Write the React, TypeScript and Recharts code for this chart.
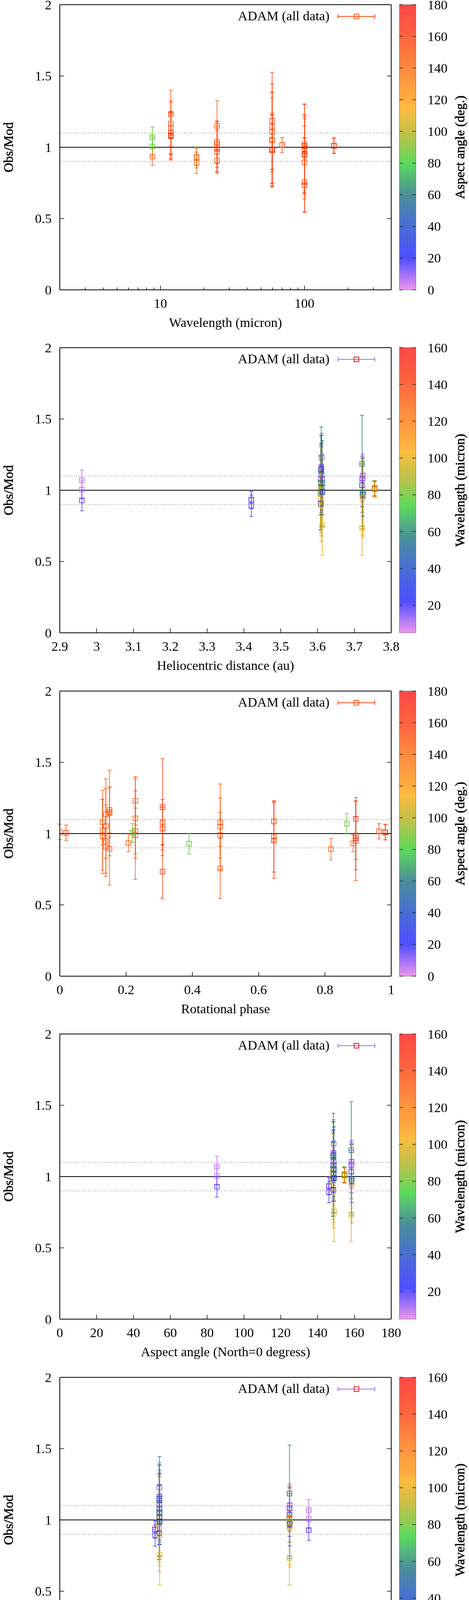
import React from 'react';
import { ScatterChart, Scatter, XAxis, YAxis, ErrorBar, ReferenceLine, Legend } from 'recharts';

// ---------------- data: one entry per observation ----------------
const wavelength = [
  8.8, 8.8, 17.8,
  8.8, 17.8, 17.8,
  11.8, 59.6, 100,
  11.8, 24.7, 59.6, 100,
  11.8, 24.7, 59.6, 100,
  11.8, 24.7, 59.6, 100,
  11.8, 24.7, 59.6, 100,
  11.8, 24.7, 59.6, 100,
  11.8, 59.6, 100,
  11.8, 24.7, 59.6, 100,
  160, 100, 70, 160, 100,
];
const helioDistance = [
  2.96, 2.96, 2.96,
  3.42, 3.42, 3.42,
  3.608, 3.608, 3.608,
  3.609, 3.609, 3.609, 3.609,
  3.61, 3.61, 3.61, 3.61,
  3.611, 3.611, 3.611, 3.611,
  3.613, 3.613, 3.613, 3.613,
  3.721, 3.721, 3.721, 3.721,
  3.722, 3.722, 3.722,
  3.723, 3.723, 3.723, 3.723,
  3.755, 3.755, 3.755, 3.755, 3.755,
];
const rotationalPhase = [
  0.866, 0.219, 0.39,
  0.207, 0.818, 0.885,
  0.129, 0.129, 0.129,
  0.139, 0.139, 0.139, 0.139,
  0.15, 0.15, 0.15, 0.15,
  0.228, 0.228, 0.228, 0.228,
  0.484, 0.484, 0.484, 0.484,
  0.31, 0.31, 0.31, 0.31,
  0.646, 0.646, 0.646,
  0.893, 0.893, 0.893, 0.893,
  0.0, 0.019, 0.963, 0.982, 0.982,
];
const aspectAngle = [
  85.3, 85.3, 85.3,
  146.2, 146.2, 146.2,
  148.4, 148.4, 148.4,
  148.5, 148.5, 148.5, 148.5,
  148.6, 148.6, 148.6, 148.6,
  148.7, 148.7, 148.7, 148.7,
  148.9, 148.9, 148.9, 148.9,
  158.3, 158.3, 158.3, 158.3,
  158.4, 158.4, 158.4,
  158.5, 158.5, 158.5, 158.5,
  154.6, 154.6, 154.6, 154.6, 154.6,
];
const phaseAngle = [
  20.1, 20.1, 20.1,
  -17.0, -17.0, -17.0,
  -16.0, -16.0, -16.0,
  -16.0, -16.0, -16.0, -16.0,
  -15.95, -15.95, -15.95, -15.95,
  -15.95, -15.95, -15.95, -15.95,
  -15.9, -15.9, -15.9, -15.9,
  15.45, 15.45, 15.45, 15.45,
  15.45, 15.45, 15.45,
  15.5, 15.5, 15.5, 15.5,
  15.45, 15.45, 15.45, 15.45, 15.45,
];
const obsModRatio = [
  1.07, 1.005, 0.929,
  0.935, 0.891, 0.932,
  1.08, 0.98, 1.024,
  1.135, 0.907, 1.053, 0.95,
  1.166, 1.151, 1.144, 0.894,
  1.23, 1.019, 1.107, 0.989,
  1.08, 0.989, 1.048, 0.755,
  1.079, 1.035, 1.185, 0.733,
  1.085, 0.98, 0.951,
  1.103, 0.968, 0.986, 0.95,
  1.012, 1.006, 1.016, 1.009, 1.011,
];
const obsModError = [
  0.072, 0.066, 0.073,
  0.062, 0.075, 0.06,
  0.16, 0.26, 0.28,
  0.18, 0.08, 0.33, 0.25,
  0.16, 0.176, 0.3, 0.255,
  0.17, 0.16, 0.28, 0.31,
  0.17, 0.16, 0.3, 0.21,
  0.16, 0.15, 0.34, 0.19,
  0.14, 0.25, 0.265,
  0.15, 0.15, 0.24, 0.28,
  0.054, 0.054, 0.053, 0.053, 0.055,
];

// ---------------- ticks ----------------
const yTicks = [0, 0.5, 1, 1.5, 2];
const wavelengthTicks = [2, 3, 4, 5, 6, 7, 8, 9, 10, 20, 30, 40, 50, 60, 70, 80, 90, 100, 200, 300, 400];
const wavelengthTickLabels = [10, 100];
const helioTicks = [2.9, 3, 3.1, 3.2, 3.3, 3.4, 3.5, 3.6, 3.7, 3.8];
const rotTicks = [0, 0.2, 0.4, 0.6, 0.8, 1];
const aspectTicks = [0, 20, 40, 60, 80, 100, 120, 140, 160, 180];
const phaseTicks = [-40, -30, -20, -10, 0, 10, 20, 30, 40];
const cbAspectTicks = [0, 20, 40, 60, 80, 100, 120, 140, 160, 180];
const cbWavelengthTicks = [20, 40, 60, 80, 100, 120, 140, 160];

const observations = wavelength.map((w, i) => ({
  wavelength: w,
  helio: helioDistance[i],
  rot: rotationalPhase[i],
  aspect: aspectAngle[i],
  phase: phaseAngle[i],
  ratio: obsModRatio[i],
  err: obsModError[i],
}));

// ---------------- styles ----------------
const FONT = '"Liberation Serif", "Times New Roman", serif';
const FS = 34;
const PANEL_PITCH = 878.4;
const PAD_TOP = 20; // extra room above each plot so that the top tick label is not clipped
const TOP_AXIS_H = 12 + PAD_TOP;
const PLOT_H = 730;
const BOTTOM_AXIS_H = 136;
const CHART_H = TOP_AXIS_H + PLOT_H + BOTTOM_AXIS_H;
const TICK_MAJOR = 11;
const TICK_MINOR = 6;

const PALETTE: [number, number[]][] = [
  [0.0, [232, 115, 232]],
  [0.111, [20, 20, 255]],
  [0.222, [10, 60, 200]],
  [0.333, [15, 105, 120]],
  [0.444, [40, 205, 40]],
  [0.555, [180, 170, 10]],
  [0.639, [255, 165, 0]],
  [0.667, [255, 145, 0]],
  [0.778, [255, 100, 0]],
  [0.889, [255, 45, 0]],
  [1.0, [255, 10, 10]],
];
const rgb = (c: number[]) => `rgb(${c[0]},${c[1]},${c[2]})`;
function paletteColor(f: number) {
  const t = Math.max(0, Math.min(1, f));
  for (let i = 1; i < PALETTE.length; i++) {
    const [p0, c0] = PALETTE[i - 1];
    const [p1, c1] = PALETTE[i];
    if (t <= p1) {
      const u = (t - p0) / (p1 - p0);
      return rgb(c0.map((v, k) => Math.round(v + (c1[k] - v) * u)));
    }
  }
  return rgb(PALETTE[PALETTE.length - 1][1]);
}

const fmt = (v: number) => String(Math.round(v * 100) / 100);

type Cfg = {
  xLabel: string;
  xOf: (o: any) => number;
  domain: [number, number];
  scale: 'log' | 'linear';
  ticks: number[];
  labels: number[];
  cOf: (o: any) => number;
  cbDomain: [number, number];
  cbTicks: number[];
  cbLabel: string;
  legendLine: string;
  legendBox: string;
};

const aspectColor = {
  cOf: (o: any) => o.aspect,
  cbDomain: [0, 180] as [number, number],
  cbTicks: cbAspectTicks,
  cbLabel: 'Aspect angle (deg.)',
  legendLine: '#ff4a14',
  legendBox: '#ff5a1e',
};
const waveColor = {
  cOf: (o: any) => o.wavelength,
  cbDomain: [5, 160] as [number, number],
  cbTicks: cbWavelengthTicks,
  cbLabel: 'Wavelength (micron)',
  legendLine: '#a070f0',
  legendBox: '#ee1c1c',
};

const panels: Cfg[] = [
  { xLabel: 'Wavelength (micron)', xOf: (o) => o.wavelength, domain: [2, 400], scale: 'log', ticks: wavelengthTicks, labels: wavelengthTickLabels, ...aspectColor },
  { xLabel: 'Heliocentric distance (au)', xOf: (o) => o.helio, domain: [2.9, 3.8], scale: 'linear', ticks: helioTicks, labels: helioTicks, ...waveColor },
  { xLabel: 'Rotational phase', xOf: (o) => o.rot, domain: [0, 1], scale: 'linear', ticks: rotTicks, labels: rotTicks, ...aspectColor },
  { xLabel: 'Aspect angle (North=0 degress)', xOf: (o) => o.aspect, domain: [0, 180], scale: 'linear', ticks: aspectTicks, labels: aspectTicks, ...waveColor },
  { xLabel: 'Phase angle (degree)', xOf: (o) => o.phase, domain: [-40, 40], scale: 'linear', ticks: phaseTicks, labels: phaseTicks, ...waveColor },
];

// ---------------- drawing helpers ----------------
function SText(props: any) {
  const { x, y, anchor = 'middle', rotate = 0, dy, heavy, children } = props;
  return (
    <text
      transform={`translate(${x},${y}) rotate(${rotate})`}
      textAnchor={anchor}
      dy={dy}
      fontFamily={FONT}
      fontSize={FS}
      fill="#000"
      stroke={heavy ? '#000' : 'none'}
      strokeWidth={heavy ? 0.7 : 0}
    >
      {children}
    </text>
  );
}

function BottomTick(props: any) {
  const { x, y, payload, cfg } = props;
  const v = payload.value;
  const major = cfg.labels.includes(v);
  return (
    <g>
      <line x1={x} y1={y} x2={x} y2={y - (major ? TICK_MAJOR : TICK_MINOR)} stroke="#000" strokeWidth={1.5} />
      {major && <SText x={x} y={y + 46}>{fmt(v)}</SText>}
    </g>
  );
}
function TopTick(props: any) {
  const { x, y, payload, cfg } = props;
  const major = cfg.labels.includes(payload.value);
  return <line x1={x} y1={y} x2={x} y2={y + (major ? TICK_MAJOR : TICK_MINOR)} stroke="#000" strokeWidth={1.5} />;
}
function LeftTick(props: any) {
  const { x, y, payload } = props;
  return (
    <g>
      <line x1={x} y1={y} x2={x + TICK_MAJOR} y2={y} stroke="#000" strokeWidth={1.5} />
      <SText x={x - 21} y={y} anchor="end" dy="0.34em">{fmt(payload.value)}</SText>
    </g>
  );
}
function RightTick(props: any) {
  const { x, y } = props;
  return <line x1={x} y1={y} x2={x - TICK_MAJOR} y2={y} stroke="#000" strokeWidth={1.5} />;
}
const CB_W = 42;
function CbTick(props: any) {
  const { x, y, payload } = props;
  return (
    <g>
      <line x1={x} y1={y} x2={x + 9} y2={y} stroke="#222" strokeWidth={1.5} />
      <line x1={x + CB_W} y1={y} x2={x + CB_W - 9} y2={y} stroke="#222" strokeWidth={1.5} />
      <SText x={x + 72} y={y} anchor="start" dy="0.34em">{fmt(payload.value)}</SText>
    </g>
  );
}
// colour bar + its title, drawn as the label of the colour-bar axis
function ColorBar(props: any) {
  const { viewBox, gid, text } = props;
  return (
    <g>
      <defs>
        <linearGradient id={gid} x1="0" y1="1" x2="0" y2="0">
          {PALETTE.map(([p, c]) => (
            <stop key={p} offset={p} stopColor={rgb(c)} />
          ))}
        </linearGradient>
      </defs>
      <rect
        x={viewBox.x}
        y={viewBox.y}
        width={CB_W}
        height={viewBox.height}
        fill={`url(#${gid})`}
        fillOpacity={0.75}
        stroke="#666"
        strokeWidth={1}
        style={{ mixBlendMode: 'multiply' }}
      />
      <SText x={viewBox.x + 166} y={viewBox.y + viewBox.height / 2} rotate={-90} heavy>{text}</SText>
    </g>
  );
}
function YTitle(props: any) {
  const { viewBox } = props;
  return <SText x={33} y={viewBox.y + viewBox.height / 2} rotate={-90} heavy>Obs/Mod</SText>;
}
function XTitle(props: any) {
  const { viewBox, text } = props;
  return <SText x={viewBox.x + viewBox.width / 2} y={viewBox.y + 95}>{text}</SText>;
}
function SquareMark(props: any) {
  const { cx, cy, color } = props;
  if (cx == null || cy == null) return null;
  return <rect x={cx - 6} y={cy - 6} width={12} height={12} fill="none" stroke={color} strokeWidth={2} strokeOpacity={0.8} />;
}
function LegendBox(props: any) {
  const { line, box } = props;
  return (
    <svg width={410} height={60} style={{ overflow: 'visible', display: 'block' }}>
      <SText x={253} y={37.5} anchor="end">ADAM (all data)</SText>
      <line x1={275} y1={28} x2={369} y2={28} stroke={line} strokeWidth={2} />
      <line x1={275} y1={22.5} x2={275} y2={33.5} stroke={line} strokeWidth={2} />
      <line x1={369} y1={22.5} x2={369} y2={33.5} stroke={line} strokeWidth={2} />
      <rect x={316} y={22} width={12} height={12} fill="none" stroke={box} strokeWidth={2} />
    </svg>
  );
}

function Panel({ cfg, idx }: { cfg: Cfg; idx: number }) {
  const span = cfg.cbDomain[1] - cfg.cbDomain[0];
  const rows = observations.map((o) => ({
    x: cfg.xOf(o),
    y: o.ratio,
    e: o.err,
    color: paletteColor((cfg.cOf(o) - cfg.cbDomain[0]) / span),
  }));
  return (
    <div style={{ position: 'absolute', left: 0, top: Math.round(idx * PANEL_PITCH) - PAD_TOP, width: 1200, height: CHART_H }}>
      <ScatterChart width={1200} height={CHART_H} margin={{ top: 0, right: 0, bottom: 0, left: 0 }}>
        <XAxis
          xAxisId="b"
          type="number"
          dataKey="x"
          orientation="bottom"
          domain={cfg.domain}
          scale={cfg.scale}
          ticks={cfg.ticks}
          interval={0}
          allowDataOverflow
          height={BOTTOM_AXIS_H}
          tickSize={0}
          tickMargin={0}
          tickLine={false}
          axisLine={{ stroke: '#000', strokeWidth: 2 }}
          tick={(p: any) => <BottomTick {...p} cfg={cfg} />}
          label={<XTitle text={cfg.xLabel} />}
        />
        <XAxis
          xAxisId="t"
          type="number"
          orientation="top"
          domain={cfg.domain}
          scale={cfg.scale}
          ticks={cfg.ticks}
          interval={0}
          allowDataOverflow
          height={TOP_AXIS_H}
          tickSize={0}
          tickMargin={0}
          tickLine={false}
          axisLine={{ stroke: '#000', strokeWidth: 2 }}
          tick={(p: any) => <TopTick {...p} cfg={cfg} />}
        />
        <YAxis
          yAxisId="l"
          type="number"
          dataKey="y"
          orientation="left"
          domain={[0, 2]}
          ticks={yTicks}
          interval={0}
          allowDataOverflow
          width={153}
          tickSize={0}
          tickMargin={0}
          tickLine={false}
          axisLine={{ stroke: '#000', strokeWidth: 2 }}
          tick={(p: any) => <LeftTick {...p} />}
          label={<YTitle />}
        />
        <YAxis
          yAxisId="b_cbar"
          type="number"
          orientation="right"
          domain={cfg.cbDomain}
          ticks={cfg.cbTicks}
          interval={0}
          allowDataOverflow
          width={178}
          tickSize={0}
          tickMargin={0}
          tickLine={false}
          axisLine={false}
          tick={(p: any) => <CbTick {...p} />}
          label={<ColorBar gid={`cbgrad${idx}`} text={cfg.cbLabel} />}
        />
        <YAxis
          yAxisId="a_mirror"
          type="number"
          orientation="right"
          domain={[0, 2]}
          ticks={yTicks}
          interval={0}
          allowDataOverflow
          width={21}
          tickSize={0}
          tickMargin={0}
          tickLine={false}
          axisLine={{ stroke: '#000', strokeWidth: 2 }}
          tick={(p: any) => <RightTick {...p} />}
        />
        <ReferenceLine xAxisId="b" yAxisId="l" y={1.1} stroke="#999" strokeWidth={2} strokeDasharray="2 4" />
        <ReferenceLine xAxisId="b" yAxisId="l" y={0.9} stroke="#999" strokeWidth={2} strokeDasharray="2 4" />
        <ReferenceLine xAxisId="b" yAxisId="l" y={1} stroke="#000" strokeWidth={2} />
        {rows.map((r, i) => (
          <Scatter
            key={i}
            xAxisId="b"
            yAxisId="l"
            data={[r]}
            isAnimationActive={false}
            shape={(p: any) => <SquareMark {...p} color={r.color} />}
          >
            <ErrorBar dataKey="e" direction="y" width={5} stroke={r.color} strokeWidth={2} strokeOpacity={0.75} isAnimationActive={false} />
          </Scatter>
        ))}
        <Legend
          layout="horizontal"
          verticalAlign="middle"
          align="center"
          wrapperStyle={{ position: 'absolute', left: 590, top: 14 + PAD_TOP, width: 410, height: 60 }}
          content={() => <LegendBox line={cfg.legendLine} box={cfg.legendBox} />}
        />
      </ScatterChart>
    </div>
  );
}

export default function App() {
  return (
    <div style={{ position: 'absolute', left: 0, top: 0, width: 1200, height: 4363, background: '#fff', overflow: 'hidden' }}>
      {panels.map((cfg, i) => (
        <Panel key={i} cfg={cfg} idx={i} />
      ))}
    </div>
  );
}
